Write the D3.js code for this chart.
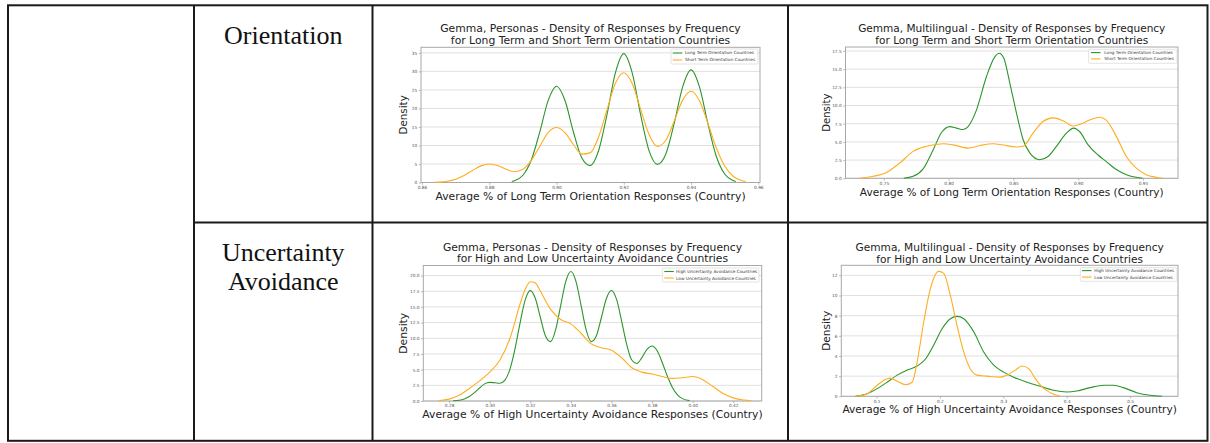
<!DOCTYPE html>
<html><head><meta charset="utf-8">
<script src="https://cdn.jsdelivr.net/npm/d3@7"></script>
<style>html,body{margin:0;padding:0;background:#fff}svg{display:block}</style>
</head><body>
<svg id="c" width="1210" height="443"></svg>
<script>
// ---------------- DATA ----------------
const rowLabelOrientation = ["Orientation"];
const rowLabelUncertainty = ["Uncertainty", "Avoidance"];

const titlePersonasLTO = ["Gemma, Personas - Density of Responses by Frequency", "for Long Term and Short Term Orientation Countries"];
const titleMultiLTO = ["Gemma, Multilingual - Density of Responses by Frequency", "for Long Term and Short Term Orientation Countries"];
const titlePersonasUA = ["Gemma, Personas - Density of Responses by Frequency", "for High and Low Uncertainty Avoidance Countries"];
const titleMultiUA = ["Gemma, Multilingual - Density of Responses by Frequency", "for High and Low Uncertainty Avoidance Countries"];

const xLabelLTO = "Average % of Long Term Orientation Responses (Country)";
const xLabelUA = "Average % of High Uncertainty Avoidance Responses (Country)";
const yLabel = "Density";

const legendLTO = ["Long Term Orientation Countries", "Short Term Orientation Countries"];
const legendUA = ["High Uncertainty Avoidance Countries", "Low Uncertainty Avoidance Countries"];

const xTicksPersonasLTO = [0.86, 0.88, 0.90, 0.92, 0.94, 0.96];
const yTicksPersonasLTO = [0, 5, 10, 15, 20, 25, 30, 35];
const xTicksMultiLTO = [0.75, 0.80, 0.85, 0.90, 0.95];
const yTicksMultiLTO = [0, 2.5, 5, 7.5, 10, 12.5, 15, 17.5];
const xTicksPersonasUA = [0.28, 0.30, 0.32, 0.34, 0.36, 0.38, 0.40, 0.42];
const yTicksPersonasUA = [0, 2.5, 5, 7.5, 10, 12.5, 15, 17.5, 20];
const xTicksMultiUA = [0.1, 0.2, 0.3, 0.4, 0.5];
const yTicksMultiUA = [0, 2, 4, 6, 8, 10, 12];

// density curves [x, density]
const personasLongTerm = [[0.8867,0.27],[0.8875,0.46],[0.89,1.95],[0.8925,6.06],[0.895,13.6],[0.8975,22.1],[0.90,26.0],[0.9025,22.2],[0.905,13.7],[0.9075,6.67],[0.91,4.56],[0.9125,8.56],[0.915,18.3],[0.9175,29.6],[0.92,34.8],[0.9225,29.6],[0.925,18.3],[0.9275,8.6],[0.93,4.89],[0.9325,7.69],[0.935,16.0],[0.9375,25.8],[0.94,30.4],[0.9425,25.8],[0.945,15.9],[0.9475,7.08],[0.95,2.28],[0.9525,0.53],[0.9533,0.25]];
const personasShortTerm = [[0.8638,0.06],[0.865,0.1],[0.8675,0.34],[0.87,0.9],[0.8725,1.9],[0.875,3.26],[0.8775,4.49],[0.88,5.0],[0.8825,4.57],[0.885,3.57],[0.8875,2.92],[0.89,3.56],[0.8925,5.98],[0.895,9.73],[0.8975,13.47],[0.90,14.84],[0.9025,13.44],[0.905,10.25],[0.9075,7.67],[0.91,7.99],[0.9125,12.3],[0.915,19.58],[0.9175,26.79],[0.92,29.64],[0.9225,26.71],[0.925,19.79],[0.9275,12.97],[0.93,9.76],[0.9325,11.4],[0.935,16.63],[0.9375,22.24],[0.94,24.63],[0.9425,22.09],[0.945,16.01],[0.9475,9.37],[0.95,4.43],[0.9525,1.69],[0.955,0.52],[0.9562,0.25]];
const multiLongTerm = [[0.7654,0],[0.7726,0.27],[0.7803,1.3],[0.788,3.9],[0.7945,6.3],[0.8009,7.1],[0.806,6.9],[0.8112,6.7],[0.815,7.1],[0.8215,9.4],[0.8292,14.0],[0.8356,16.7],[0.839,17.2],[0.8426,16.5],[0.8472,13.1],[0.8523,9.0],[0.8575,5.3],[0.8626,3.5],[0.8703,2.56],[0.8767,3.0],[0.8832,4.4],[0.8909,6.2],[0.8965,6.9],[0.9012,6.4],[0.9076,4.6],[0.9153,3.2],[0.9217,2.3],[0.9294,1.2],[0.9372,0.5],[0.9436,0.18],[0.9495,0]];
const multiShortTerm = [[0.7315,0],[0.7418,0.27],[0.752,0.8],[0.7623,2.1],[0.7726,3.7],[0.7829,4.4],[0.7958,4.75],[0.8035,4.6],[0.815,4.15],[0.824,4.5],[0.8342,4.75],[0.842,4.57],[0.8523,4.3],[0.8575,4.4],[0.8651,6.2],[0.8728,7.8],[0.8805,8.3],[0.8882,7.9],[0.8959,7.2],[0.901,7.4],[0.9087,8.0],[0.9165,8.4],[0.9216,8.0],[0.9293,5.8],[0.9371,3.0],[0.9448,1.4],[0.9525,0.5],[0.9602,0.14],[0.9649,0]];
const personasHighUA = [[0.282,0.03],[0.285,0.13],[0.2875,0.33],[0.29,0.72],[0.2925,1.33],[0.295,2.07],[0.2975,2.73],[0.30,2.97],[0.3025,2.91],[0.305,2.82],[0.3075,3.33],[0.31,5.08],[0.3125,8.35],[0.315,12.5],[0.3175,16.11],[0.32,17.59],[0.3225,16.34],[0.325,13.27],[0.3275,10.36],[0.33,9.46],[0.3325,11.39],[0.335,15.26],[0.3375,19.07],[0.34,20.64],[0.3425,19.07],[0.345,15.26],[0.3475,11.39],[0.35,9.46],[0.3525,10.36],[0.355,13.27],[0.3575,16.35],[0.36,17.61],[0.3625,16.19],[0.365,12.75],[0.3675,9.01],[0.37,6.53],[0.3725,5.98],[0.375,6.92],[0.3775,8.23],[0.38,8.77],[0.3825,8.0],[0.385,6.15],[0.3875,3.98],[0.39,2.17],[0.3925,0.99],[0.395,0.38],[0.3975,0.12],[0.3985,0.08]];
const personasLowUA = [[0.2748,0.05],[0.28,0.3],[0.285,0.9],[0.29,2.0],[0.295,3.2],[0.30,4.6],[0.305,6.5],[0.31,10.0],[0.315,15.5],[0.3175,17.8],[0.32,19.0],[0.3225,18.8],[0.325,17.5],[0.33,14.6],[0.335,13.0],[0.34,12.3],[0.345,10.8],[0.35,9.1],[0.355,8.5],[0.36,8.1],[0.365,6.9],[0.37,5.3],[0.375,4.6],[0.38,4.3],[0.385,3.9],[0.39,3.6],[0.395,3.7],[0.40,3.9],[0.405,3.4],[0.41,2.3],[0.415,1.2],[0.42,0.5],[0.425,0.15],[0.429,0.05]];
const multiHighUA = [[0.0669,0],[0.0853,0.26],[0.101,0.76],[0.1168,1.4],[0.1325,2.1],[0.1483,2.6],[0.164,3.0],[0.1772,3.7],[0.1903,5.1],[0.2034,6.7],[0.2165,7.7],[0.227,7.93],[0.2375,7.7],[0.2533,6.4],[0.269,4.4],[0.2848,3.1],[0.3005,2.4],[0.3163,1.9],[0.3373,1.4],[0.3583,1.0],[0.3793,0.6],[0.4003,0.43],[0.416,0.53],[0.437,0.86],[0.458,1.09],[0.4738,1.09],[0.4895,0.86],[0.5105,0.36],[0.5315,0.1],[0.55,0]];
const multiLowUA = [[0.067,0],[0.0853,0.26],[0.101,1.1],[0.1168,1.75],[0.122,1.8],[0.1325,1.5],[0.1457,1.15],[0.1562,1.4],[0.164,3.4],[0.1745,7.4],[0.185,10.7],[0.1982,12.4],[0.206,12.2],[0.2165,10.0],[0.227,7.0],[0.2375,4.4],[0.248,2.7],[0.2585,2.1],[0.2743,2.0],[0.2953,1.9],[0.3058,2.1],[0.3189,2.6],[0.3294,3.0],[0.34,2.75],[0.3504,1.75],[0.3609,0.93],[0.374,0.36],[0.3898,0]];

const seriesColors = ["#2b952b", "#ffad1f"];

// ---------------- LAYOUT ----------------
const panels = [
  { title: titlePersonasLTO, xLabel: xLabelLTO, legend: legendLTO, series: [personasLongTerm, personasShortTerm],
    xTicks: xTicksPersonasLTO, xFmt: d3.format(".2f"), yTicks: yTicksPersonasLTO, yFmt: d3.format("d"),
    frame: {x0: 421, x1: 760, y0: 47.3, y1: 182.5}, xDomain: [0.8597, 0.9605], yDomain: [0, 36.5],
    titleW: 301, titleY: [32.3, 44.3], xLabelW: 310.7, xLabelY: 199.5, yLabelX: 403.7, yLabelH: 39.3,
    leg: {x0: 671, x1: 758, y0: 49, y1: 64, lineX: 672.7, textX: 685, textW: 69.3, rows: [53, 60]} },
  { title: titleMultiLTO, xLabel: xLabelLTO, legend: legendLTO, series: [multiLongTerm, multiShortTerm],
    xTicks: xTicksMultiLTO, xFmt: d3.format(".2f"), yTicks: yTicksMultiLTO, yFmt: d3.format(".1f"),
    frame: {x0: 845.5, x1: 1178, y0: 47, y1: 178.3}, xDomain: [0.7204, 0.977], yDomain: [0, 18.05],
    titleW: 307.7, titleY: [32.3, 44.3], xLabelW: 304, xLabelY: 195.5, yLabelX: 826.2, yLabelH: 38.3,
    leg: {x0: 1088.7, x1: 1177, y0: 49.3, y1: 63.3, lineX: 1091, textX: 1104.3, textW: 68.7, rows: [52.6, 58.9]} },
  { title: titlePersonasUA, xLabel: xLabelUA, legend: legendUA, series: [personasHighUA, personasLowUA],
    xTicks: xTicksPersonasUA, xFmt: d3.format(".2f"), yTicks: yTicksPersonasUA, yFmt: d3.format(".1f"),
    frame: {x0: 423.3, x1: 761.7, y0: 265.5, y1: 401}, xDomain: [0.2673, 0.434], yDomain: [0, 21.6],
    titleW: 299.3, titleY: [250.5, 262.3], xLabelW: 340.7, xLabelY: 418.3, yLabelX: 403.5, yLabelH: 41,
    leg: {x0: 662.3, x1: 759, y0: 268, y1: 282, lineX: 664.3, textX: 676, textW: 81.7, rows: [271.5, 278]} },
  { title: titleMultiUA, xLabel: xLabelUA, legend: legendUA, series: [multiHighUA, multiLowUA],
    xTicks: xTicksMultiUA, xFmt: d3.format(".1f"), yTicks: yTicksMultiUA, yFmt: d3.format("d"),
    frame: {x0: 841.3, x1: 1178, y0: 265.3, y1: 396.3}, xDomain: [0.0444, 0.5755], yDomain: [0, 13.0],
    titleW: 308.3, titleY: [251, 262.8], xLabelW: 335, xLabelY: 413.3, yLabelX: 826, yLabelH: 40,
    leg: {x0: 1080.3, x1: 1177, y0: 267.7, y1: 281.3, lineX: 1082, textX: 1094.3, textW: 80, rows: [270.6, 277.1]} }
];

const FONT = "'DejaVu Sans', sans-serif";
const svg = d3.select("#c");

function fitSize(sel, target, base) {
  sel.attr("font-size", base);
  const w = sel.node().getComputedTextLength();
  const s = base * target / w;
  sel.attr("font-size", s);
  return s;
}

panels.forEach(p => {
  const g = svg.append("g");
  const f = p.frame;
  const x = d3.scaleLinear().domain(p.xDomain).range([f.x0, f.x1]);
  const y = d3.scaleLinear().domain(p.yDomain).range([f.y1, f.y0]);

  // grid
  g.append("g").selectAll("line").data(p.yTicks).join("line")
    .attr("x1", f.x0).attr("x2", f.x1)
    .attr("y1", d => y(d)).attr("y2", d => y(d))
    .attr("stroke", "#dcdcdc").attr("stroke-width", 0.9);

  // axes
  const ya = g.append("g").attr("transform", `translate(${f.x0},0)`)
    .call(d3.axisLeft(y).tickValues(p.yTicks).tickFormat(p.yFmt).tickSize(2.2).tickPadding(1.6));
  const xa = g.append("g").attr("transform", `translate(0,${f.y1})`)
    .call(d3.axisBottom(x).tickValues(p.xTicks).tickFormat(p.xFmt).tickSize(2.2).tickPadding(1.2));
  [ya, xa].forEach(a => {
    a.select(".domain").remove();
    a.selectAll("line").attr("stroke", "#888").attr("stroke-width", 0.6);
    a.selectAll("text").attr("font-family", FONT).attr("font-size", 4.3).attr("fill", "#555");
  });

  // frame
  g.append("rect").attr("x", f.x0).attr("y", f.y0)
    .attr("width", f.x1 - f.x0).attr("height", f.y1 - f.y0)
    .attr("fill", "none").attr("stroke", "#a8a8a8").attr("stroke-width", 1);

  // curves
  const line = d3.line().x(d => x(d[0])).y(d => y(d[1])).curve(d3.curveMonotoneX);
  p.series.forEach((s, i) => {
    g.append("path").datum(s).attr("d", line)
      .attr("fill", "none").attr("stroke", seriesColors[i]).attr("stroke-width", 1.1);
  });

  // legend
  const L = p.leg;
  g.append("rect").attr("x", L.x0).attr("y", L.y0).attr("width", L.x1 - L.x0).attr("height", L.y1 - L.y0)
    .attr("rx", 1).attr("fill", "#fff").attr("fill-opacity", 0.85).attr("stroke", "#d0d0d0").attr("stroke-width", 0.6);
  let legSize = null;
  p.legend.forEach((t, i) => {
    g.append("line").attr("x1", L.lineX).attr("x2", L.lineX + 9.5)
      .attr("y1", L.rows[i]).attr("y2", L.rows[i])
      .attr("stroke", seriesColors[i]).attr("stroke-width", 1.1);
    const tx = g.append("text").attr("x", L.textX).attr("y", L.rows[i]).attr("dy", "0.35em")
      .attr("font-family", FONT).attr("fill", "#333").text(t);
    if (i === 0) legSize = fitSize(tx, L.textW, 4.5); else tx.attr("font-size", legSize);
  });

  // title
  const cx = (f.x0 + f.x1) / 2;
  let tSize = null;
  p.title.forEach((t, i) => {
    const tt = g.append("text").attr("x", cx).attr("y", p.titleY[i]).attr("text-anchor", "middle")
      .attr("font-family", FONT).attr("fill", "#222").text(t);
    if (i === 0) tSize = fitSize(tt, p.titleW, 11); else tt.attr("font-size", tSize);
  });

  // x label
  const xl = g.append("text").attr("x", cx).attr("y", p.xLabelY).attr("text-anchor", "middle")
    .attr("font-family", FONT).attr("fill", "#222").text(p.xLabel);
  fitSize(xl, p.xLabelW, 11);

  // y label
  const cy = (f.y0 + f.y1) / 2;
  const yl = g.append("text").attr("text-anchor", "middle")
    .attr("transform", `translate(${p.yLabelX},${cy}) rotate(-90)`).attr("dy", "0.35em")
    .attr("font-family", FONT).attr("fill", "#222").text(yLabel);
  fitSize(yl, p.yLabelH, 11);
});

// ---------------- TABLE ----------------
const tbl = svg.append("g").attr("stroke", "#1a1a1a").attr("stroke-width", 2).attr("fill", "none");
tbl.append("rect").attr("x", 8).attr("y", 5.3).attr("width", 1199.5).attr("height", 435.5);
[[194, 5.3, 194, 440.8], [372.5, 5.3, 372.5, 440.8], [788, 5.3, 788, 440.8], [194, 222.5, 1207.5, 222.5]]
  .forEach(l => tbl.append("line").attr("x1", l[0]).attr("y1", l[1]).attr("x2", l[2]).attr("y2", l[3]));

const SERIF = "'Liberation Serif', 'Times New Roman', serif";
const colCx = (194 + 372.5) / 2;
rowLabelOrientation.forEach((t, i) => {
  svg.append("text").attr("x", colCx).attr("y", 43.5 + i * 29).attr("text-anchor", "middle")
    .attr("font-family", SERIF).attr("font-size", 26).attr("fill", "#111").text(t);
});
rowLabelUncertainty.forEach((t, i) => {
  svg.append("text").attr("x", colCx).attr("y", 261 + i * 28.5).attr("text-anchor", "middle")
    .attr("font-family", SERIF).attr("font-size", 26).attr("fill", "#111").text(t);
});
</script>
</body></html>
